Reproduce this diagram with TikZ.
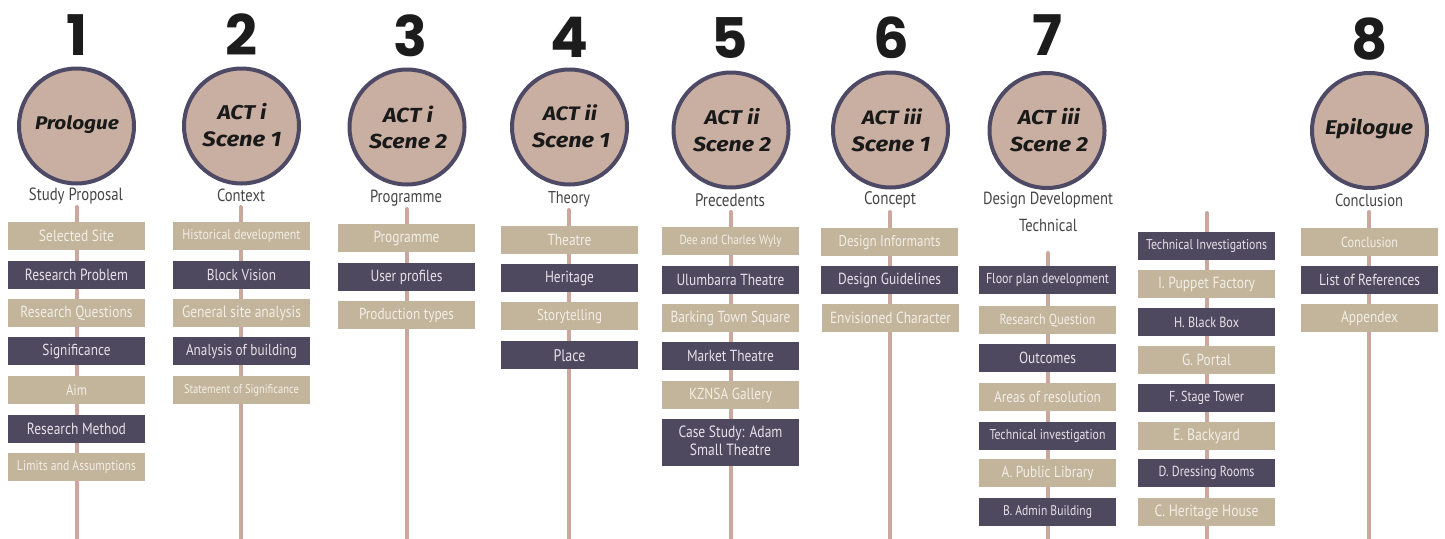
\documentclass[tikz,border=0pt]{standalone}
\usepackage{fontspec}
\usepackage{graphicx}
\setmainfont{PT Sans}
\newfontfamily\handfont{Fira Sans}
\newfontfamily\numfont{Poppins}
\definecolor{tanc}{HTML}{C2B59B}
\definecolor{darkc}{HTML}{4E495E}
\definecolor{stemc}{HTML}{CBA79D}
\definecolor{circfill}{HTML}{C9AFA1}
\definecolor{circline}{HTML}{4E4A66}
\definecolor{tantext}{HTML}{F3EEE6}
\definecolor{darktext}{HTML}{E6E1E8}
\definecolor{titlec}{HTML}{454545}
\definecolor{numc}{HTML}{1C1C1C}
\newcommand{\fitw}[2]{\scalebox{1}[1.2]{\resizebox{#1pt}{!}{#2}}}
\newcommand{\fith}[2]{\scalebox{1}[0.88]{\resizebox{#1pt}{!}{#2}}}
\tikzset{
  stem/.style={draw=stemc, line width=4pt, line cap=round},
  tanbox/.style={fill=tanc, text=tantext, minimum width=137pt, minimum height=28pt, inner sep=0pt, anchor=north},
  darkbox/.style={fill=darkc, text=darktext, minimum width=137pt, minimum height=28pt, inner sep=0pt, anchor=north},
  act/.style={circle, fill=circfill, draw=circline, line width=4pt, minimum size=115pt, inner sep=0pt},
  hand/.style={text=black!90, inner sep=0pt, font=\handfont\itshape},
  ttl/.style={text=titlec, inner sep=0pt},
  num/.style={text=numc, inner sep=0pt, font=\fontsize{56}{56}\selectfont\numfont\bfseries},
}
\begin{document}
\begin{tikzpicture}[x=1pt,y=-1pt]
\useasboundingbox (0,0) rectangle (1445,538);
% stems
\foreach \n/\x/\y in {1/76.5/207,2/241/207,3/406.5/209,4/569/210,5/730.5/212,6/890/212,7/1048/253,7b/1207/213,8/1369/212}{
  \coordinate (s\n t) at (\x,\y);
  \coordinate (s\n b) at (\x,545);
  \draw[stem] (s\n t) -- (s\n b);
}
% numbers
\node[num] (n1) at (77,35) {1};
\node[num] (n2) at (241,35) {2};
\node[num] (n3) at (410,36) {3};
\node[num] (n4) at (569,37) {4};
\node[num] (n5) at (730,38) {5};
\node[num] (n6) at (891,38) {6};
\node[num] (n7) at (1047,35) {7};
\node[num] (n8) at (1370,39) {8};
% circles
\node[act] (c1) at (76.5,126) {};
\node[act] (c2) at (241.5,126) {};
\node[act] (c3) at (407,127) {};
\node[act] (c4) at (569.5,127) {};
\node[act] (c5) at (731,130) {};
\node[act] (c6) at (890.5,130) {};
\node[act] (c7) at (1047,130.5) {};
\node[act] (c8) at (1369.5,130.5) {};
% circle labels
\node[hand] (h1) at (77,125) {\fith{84}{\bfseries Prologue}};
\node[hand] (h2a) at (242,112) {\fith{49}{\bfseries ACT i}};
\node[hand] (h2b) at (242,139) {\fith{79}{\bfseries Scene 1}};
\node[hand] (h3a) at (408,114) {\fith{50}{\bfseries ACT i}};
\node[hand] (h3b) at (408,141) {\fith{78}{\bfseries Scene 2}};
\node[hand] (h4a) at (570,113) {\fith{54}{\bfseries ACT ii}};
\node[hand] (h4b) at (571,140) {\fith{78}{\bfseries Scene 1}};
\node[hand] (h5a) at (732,117) {\fith{55}{\bfseries ACT ii}};
\node[hand] (h5b) at (732,144) {\fith{78}{\bfseries Scene 2}};
\node[hand] (h6a) at (892,117) {\fith{60}{\bfseries ACT iii}};
\node[hand] (h6b) at (891,144) {\fith{79}{\bfseries Scene 1}};
\node[hand] (h7a) at (1049,117) {\fith{62}{\bfseries ACT iii}};
\node[hand] (h7b) at (1049,144) {\fith{78}{\bfseries Scene 2}};
\node[hand] (h8) at (1369,129) {\fith{88}{\bfseries Epilogue}};
% titles
\node[ttl] (t1) at (76,196) {\fitw{94}{Study Proposal}};
\node[ttl] (t2) at (241,195) {\fitw{48}{Context}};
\node[ttl] (t3) at (406,198) {\fitw{72}{Programme}};
\node[ttl] (t4) at (569,199) {\fitw{42}{Theory}};
\node[ttl] (t5) at (730,200) {\fitw{70}{Precedents}};
\node[ttl] (t6) at (890,200) {\fitw{52}{Concept}};
\node[ttl] (t7) at (1048,200) {\fitw{130}{Design Development}};
\node[ttl] (t7t) at (1048,225) {\fitw{58}{Technical}};
\node[ttl] (t8) at (1369,200) {\fitw{68}{Conclusion}};
% column 1
\node[tanbox]  (a1) at (76.5,222) {\fitw{75}{Selected Site}};
\node[darkbox] (a2) at (76.5,261) {\fitw{103}{Research Problem}};
\node[tanbox]  (a3) at (76.5,299) {\fitw{112}{Research Questions}};
\node[darkbox] (a4) at (76.5,337) {\fitw{68}{Significance}};
\node[tanbox]  (a5) at (76.5,376) {\fitw{21}{Aim}};
\node[darkbox] (a6) at (76.5,415) {\fitw{99}{Research Method}};
\node[tanbox]  (a7) at (76.5,453) {\fitw{119}{Limits and Assumptions}};
% column 2
\node[tanbox]  (b1) at (241.5,222) {\fitw{118}{Historical development}};
\node[darkbox] (b2) at (241.5,261) {\fitw{69}{Block Vision}};
\node[tanbox]  (b3) at (241.5,299) {\fitw{119}{General site analysis}};
\node[darkbox] (b4) at (241.5,337) {\fitw{111}{Analysis of building}};
\node[tanbox]  (b5) at (241.5,376) {\fitw{115}{Statement of Significance}};
% column 3
\node[tanbox]  (d1) at (406.5,224) {\fitw{66}{Programme}};
\node[darkbox] (d2) at (406.5,263) {\fitw{72}{User profiles}};
\node[tanbox]  (d3) at (406.5,301) {\fitw{95}{Production types}};
% column 4
\node[tanbox]  (e1) at (569.5,226) {\fitw{44}{Theatre}};
\node[darkbox] (e2) at (569.5,264) {\fitw{49}{Heritage}};
\node[tanbox]  (e3) at (569.5,302) {\fitw{65}{Storytelling}};
\node[darkbox] (e4) at (569.5,341) {\fitw{32}{Place}};
% column 5
\node[tanbox]  (f1) at (730.5,227) {\fitw{102}{Dee and Charles Wyly}};
\node[darkbox] (f2) at (730.5,266) {\fitw{108}{Ulumbarra Theatre}};
\node[tanbox]  (f3) at (730.5,304) {\fitw{120}{Barking Town Square}};
\node[darkbox] (f4) at (730.5,342) {\fitw{87}{Market Theatre}};
\node[tanbox]  (f5) at (730.5,381) {\fitw{83}{KZNSA Gallery}};
\node[darkbox, minimum height=47pt] (f6) at (730.5,419) {\fitw{104}{\begin{tabular}{@{}c@{}}Case Study: Adam\\[-0.5pt]Small Theatre\end{tabular}}};
% column 6
\node[tanbox]  (g1) at (889.5,228) {\fitw{102}{Design Informants}};
\node[darkbox] (g2) at (889.5,266) {\fitw{103}{Design Guidelines}};
\node[tanbox]  (g3) at (890.5,304) {\fitw{121}{Envisioned Character}};
% column 7
\node[darkbox] (k1) at (1047.5,266) {\fitw{123}{Floor plan development}};
\node[tanbox]  (k2) at (1047.5,306) {\fitw{96}{Research Question}};
\node[darkbox] (k3) at (1047.5,344) {\fitw{57}{Outcomes}};
\node[tanbox]  (k4) at (1047.5,383) {\fitw{107}{Areas of resolution}};
\node[darkbox] (k5) at (1047.5,422) {\fitw{116}{Technical investigation}};
\node[tanbox]  (k6) at (1047.5,459) {\fitw{92}{A. Public Library}};
\node[darkbox] (k7) at (1047.5,498) {\fitw{89}{B. Admin Building}};
% column 7b
\node[darkbox] (m1) at (1206.5,232) {\fitw{121}{Technical Investigations}};
\node[tanbox]  (m2) at (1206.5,270) {\fitw{97}{I. Puppet Factory}};
\node[darkbox] (m3) at (1206.5,308) {\fitw{65}{H. Black Box}};
\node[tanbox]  (m4) at (1206.5,346) {\fitw{49}{G. Portal}};
\node[darkbox] (m5) at (1206.5,384) {\fitw{75}{F. Stage Tower}};
\node[tanbox]  (m6) at (1206.5,422) {\fitw{67}{E. Backyard}};
\node[darkbox] (m7) at (1206.5,459) {\fitw{96}{D. Dressing Rooms}};
\node[tanbox]  (m8) at (1206.5,498) {\fitw{104}{C. Heritage House}};
% column 8
\node[tanbox]  (p1) at (1369.5,228) {\fitw{57}{Conclusion}};
\node[darkbox] (p2) at (1369.5,266) {\fitw{101}{List of References}};
\node[tanbox]  (p3) at (1369.5,304) {\fitw{57}{Appendex}};
\end{tikzpicture}
\end{document}
